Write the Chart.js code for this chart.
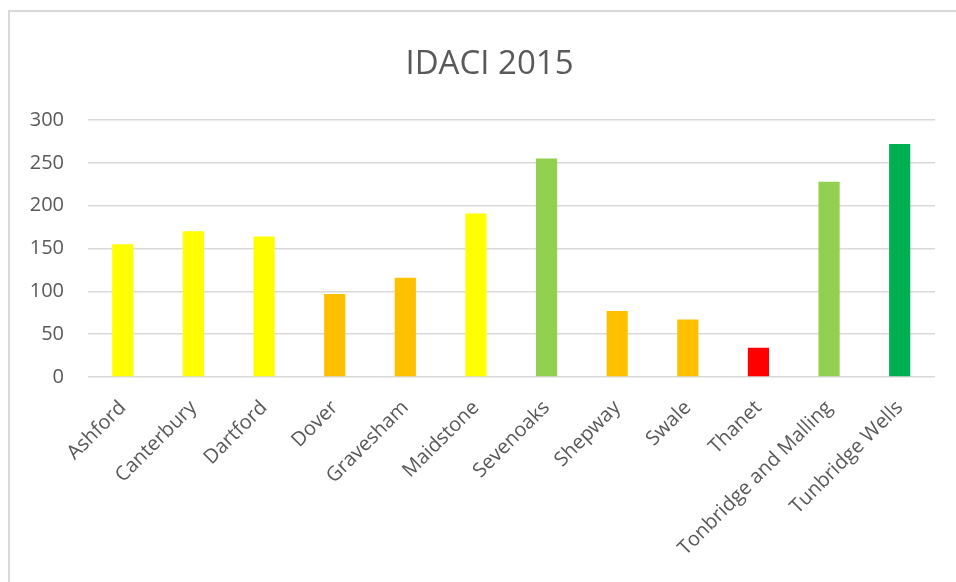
<!DOCTYPE html>
<html>
<head>
<meta charset="utf-8">
<script src="https://cdn.jsdelivr.net/npm/chart.js@4"></script>
<style>
  html, body { margin: 0; padding: 0; background: #fff; overflow: hidden; width: 956px; height: 582px; }
  #frame { position: absolute; left: 8px; top: 10px; width: 1000px; height: 700px; border: 2px solid #d9d9d9; box-sizing: border-box; pointer-events: none; }
  canvas { position: absolute; left: 0; top: 0; }
</style>
</head>
<body>
<div id="frame"></div>
<canvas id="c" width="956" height="582"></canvas>
<script>
const categories = ['Ashford','Canterbury','Dartford','Dover','Gravesham','Maidstone','Sevenoaks','Shepway','Swale','Thanet','Tonbridge and Malling','Tunbridge Wells'];
const values = [155, 170, 164, 97, 116, 191, 255, 77, 67, 34, 228, 272];
const barColors = ['#FFFF00','#FFFF00','#FFFF00','#FFC000','#FFC000','#FFFF00','#92D050','#FFC000','#FFC000','#FF0000','#92D050','#00B050'];
const yTicks = [0, 50, 100, 150, 200, 250, 300];
const titleText = 'IDACI 2015';

const textColor = '#595959';
const gridColor = '#d9d9d9';

// centre the title over the outer frame rather than the padded canvas
const titleCentre = {
  id: 'titleCentre',
  afterLayout(chart) {
    if (chart.titleBlock) { chart.titleBlock.left = 9; chart.titleBlock.right = 970; }
  }
};

new Chart(document.getElementById('c'), {
  type: 'bar',
  data: {
    labels: categories,
    datasets: [{
      data: values,
      backgroundColor: barColors,
      borderWidth: 0,
      barPercentage: 0.3,
      categoryPercentage: 1.0
    }]
  },
  plugins: [titleCentre],
  options: {
    responsive: false,
    animation: false,
    devicePixelRatio: 1,
    layout: { padding: { left: 0, right: 21, top: 0, bottom: 0 } },
    plugins: {
      legend: { display: false },
      tooltip: { enabled: false },
      title: {
        display: true,
        text: titleText,
        color: textColor,
        font: { family: 'Open Sans', size: 33, weight: 'normal' },
        padding: { top: 45, bottom: 35.4 }
      }
    },
    scales: {
      x: {
        grid: { display: false },
        border: { display: false },
        ticks: {
          color: textColor,
          font: { family: 'Open Sans', size: 20 },
          minRotation: 45,
          maxRotation: 45,
          autoSkip: false,
          padding: 11
        },
        afterFit(scale) { scale.height = 205; }
      },
      y: {
        min: yTicks[0],
        max: yTicks[yTicks.length - 1],
        afterBuildTicks(scale) { scale.ticks = yTicks.map(v => ({ value: v })); },
        grid: { color: gridColor, lineWidth: 1.5, drawTicks: false },
        border: { display: false },
        ticks: {
          color: textColor,
          font: { family: 'Open Sans', size: 20 },
          padding: 23.5
        },
        afterFit(scale) { scale.width = 87.5; }
      }
    }
  }
});
</script>
</body>
</html>
